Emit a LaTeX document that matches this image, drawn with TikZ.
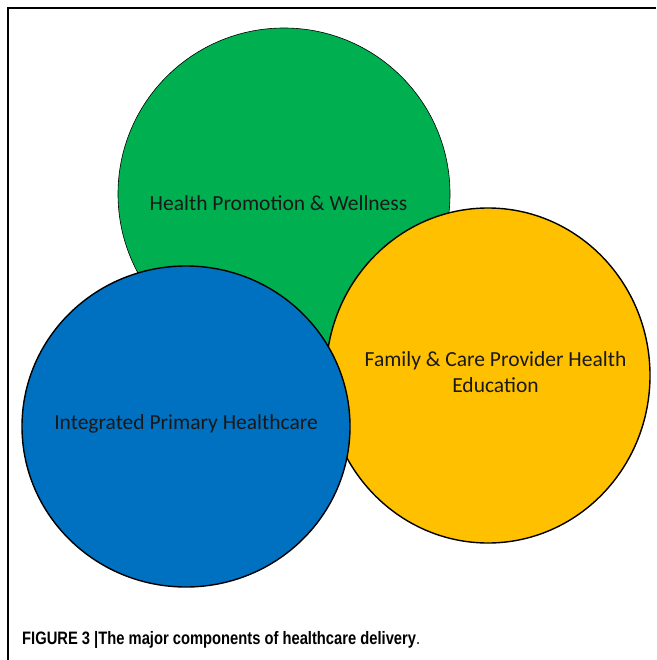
\documentclass[tikz,border=0pt]{standalone}
\usepackage{fontspec}
\setmainfont{Carlito}
\newfontfamily\capfont{Liberation Sans}
\usetikzlibrary{shapes.geometric}
\definecolor{officegreen}{HTML}{00B050}
\definecolor{officeblue}{HTML}{0070C0}
\definecolor{officegold}{HTML}{FFC000}
\begin{document}
\begin{tikzpicture}[
    x=1pt, y=-1pt,
    bubble/.style={ellipse, draw=black, line width=1.4pt, inner sep=0pt},
    lbl/.style={font=\fontsize{21.5}{26}\selectfont, align=center, text=black!90}
]
    \useasboundingbox (0,0) rectangle (656,660);
    % Frame
    \draw[line width=1.2pt] (8,660) -- (8,8) -- (656,8);

    % Components
    \node[bubble, line width=0.6pt, fill=officegreen, minimum width=332pt, minimum height=332pt] (promo) at (284,194) {};
    \node[bubble, fill=officegold, minimum width=324pt, minimum height=335pt] (family) at (488,375.5) {};
    \node[bubble, fill=officeblue, minimum width=328pt, minimum height=321pt] (primary) at (186,426.5) {};

    % Labels
    \node[lbl] (promolbl) at (278.5,203) {Health Promotion \& Wellness};
    \node[lbl] (familylbl) at (495.5,372) {Family \& Care Provider Health\\Education};
    \node[lbl] (primarylbl) at (186,424) {Integrated Primary Healthcare};

    % Caption
    \node[anchor=base west, inner sep=0pt] (caption) at (22,644)
        {\resizebox{398pt}{\height}{\capfont\fontsize{18}{20}\selectfont\bfseries FIGURE 3 |The major components of healthcare delivery\mdseries.}};
\end{tikzpicture}
\end{document}
